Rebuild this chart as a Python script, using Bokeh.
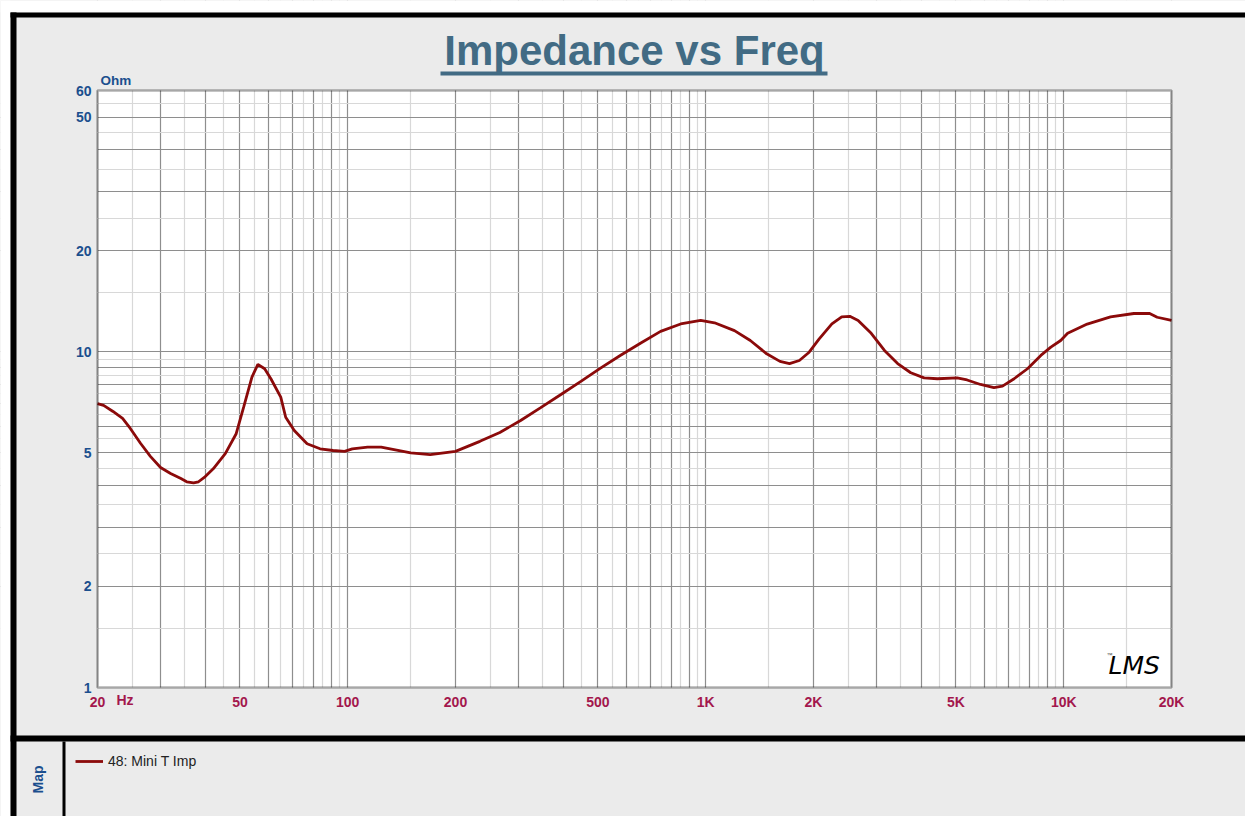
import math
from bokeh.plotting import figure
from bokeh.models import FixedTicker, Label, BoxAnnotation
from bokeh.embed import file_html
from bokeh.resources import INLINE

# ---------------- data ----------------
freq_hz = [20, 20.8, 22.1, 23.5, 24.7, 26.4, 28.1, 30.0, 32.0, 34.2, 35.5, 37.1, 38.3,
           40.0, 42.1, 45.5, 48.8, 51.2, 54.0, 56.1, 58.6, 61.0, 65.0, 67.1, 70.9, 77.0,
           83.7, 91.0, 98.0, 103, 113.6, 124, 150, 170, 200, 234, 266, 304, 346, 394,
           448, 507, 577, 657, 748, 851, 968, 1058, 1203, 1332, 1480, 1612, 1714, 1826,
           1945, 2072, 2251, 2398, 2526, 2665, 2899, 3157, 3436, 3739, 4073, 4436, 5037,
           5371, 5856, 6382, 6744, 7269, 7921, 8630, 9205, 9807, 10253, 11630, 13513,
           15700, 17380, 18240, 20000]
imp_ohm = [7.01, 6.92, 6.64, 6.33, 5.91, 5.33, 4.88, 4.52, 4.34, 4.19, 4.10, 4.07, 4.10,
           4.25, 4.48, 4.97, 5.70, 6.84, 8.40, 9.17, 8.90, 8.31, 7.33, 6.38, 5.83, 5.32,
           5.14, 5.08, 5.05, 5.14, 5.20, 5.20, 5.00, 4.94, 5.05, 5.41, 5.75, 6.24, 6.82,
           7.46, 8.16, 8.92, 9.75, 10.6, 11.5, 12.1, 12.4, 12.2, 11.56, 10.8, 9.86, 9.36,
           9.22, 9.42, 9.97, 10.9, 12.1, 12.7, 12.75, 12.4, 11.35, 10.09, 9.22, 8.66, 8.36,
           8.31, 8.36, 8.24, 7.99, 7.82, 7.90, 8.31, 8.90, 9.75, 10.32, 10.8, 11.35, 12.09,
           12.7, 13.0, 13.0, 12.67, 12.4]
series_name = "48: Mini T Imp"

x_limits = [20, 20000]
y_limits = [1, 60]
x_tick_values = [20, 50, 100, 200, 500, 1000, 2000, 5000, 10000, 20000]
x_tick_labels = ["20", "50", "100", "200", "500", "1K", "2K", "5K", "10K", "20K"]
y_tick_values = [1, 2, 5, 10, 20, 50, 60]
y_tick_labels = ["1", "2", "5", "10", "20", "50", "60"]

x_grid_major = [20, 30, 40, 50, 60, 70, 80, 90, 100, 200, 300, 400, 500, 600, 700, 800, 900,
                1000, 2000, 3000, 4000, 5000, 6000, 7000, 8000, 9000, 10000, 20000]
x_grid_minor = [25, 35, 45, 55, 65, 75, 85, 95, 150, 250, 350, 450, 550, 650, 750, 850, 950,
                1500, 2500, 3500, 4500, 5500, 6500, 7500, 8500, 9500, 15000]
y_grid_major = [2, 3, 4, 5, 6, 7, 8, 9, 10, 20, 30, 40, 50]
y_grid_minor = [1.5, 2.5, 3.5, 4.5, 5.5, 6.5, 7.5, 8.5, 9.5, 15, 25, 35, 45, 55]

# ---------------- layout (canvas pixels, from top-left) ----------------
W, H = 1245, 816
PL, PR, PT, PB = 97, 1171, 90, 687     # plot rectangle
BG = "#ebebeb"
BLUE = "#1b4f8e"
RED = "#a3174d"
TITLE_C = "#426b84"
FONT = "Liberation Sans"

# extend the log ranges so that the plot rectangle sits where it should,
# with the frame covering the whole canvas
lx0, lx1 = math.log10(x_limits[0]), math.log10(x_limits[1])
ly0, ly1 = math.log10(y_limits[0]), math.log10(y_limits[1])
kx = (PR - PL) / (lx1 - lx0)
ky = (PB - PT) / (ly1 - ly0)
xr = (10 ** (lx0 - PL / kx), 10 ** (lx1 + (W - PR) / kx))
yr = (10 ** (ly0 - (H - PB) / ky), 10 ** (ly1 + PT / ky))


def sy(py):
    return H - py


p = figure(width=W, height=H, x_axis_type="log", y_axis_type="log",
           x_range=xr, y_range=yr, title=None,
           output_backend="svg", toolbar_location=None,
           min_border_left=0, min_border_right=0, min_border_top=0, min_border_bottom=0)
p.background_fill_color = BG
p.border_fill_color = BG
p.outline_line_color = None

# white plot area under the grid
p.add_layout(BoxAnnotation(left=x_limits[0], right=x_limits[1], bottom=y_limits[0],
                           top=y_limits[1], fill_color="white", fill_alpha=1,
                           line_color=None, level="image"))

# grids
p.xgrid.ticker = FixedTicker(ticks=x_grid_major, minor_ticks=x_grid_minor)
p.ygrid.ticker = FixedTicker(ticks=y_grid_major, minor_ticks=y_grid_minor)
for g in (p.xgrid, p.ygrid):
    g.grid_line_color = "#8e8e8e"
    g.grid_line_width = 1.2
    g.minor_grid_line_color = "#d8d8d8"
    g.minor_grid_line_width = 1.2


def box(l, r, t, b, color="black", level="annotation"):
    p.add_layout(BoxAnnotation(left=l, right=r, top=sy(t), bottom=sy(b),
                               left_units="screen", right_units="screen",
                               top_units="screen", bottom_units="screen",
                               fill_color=color, fill_alpha=1, line_color=None,
                               level=level))


def text(x, baseline, txt, size, color, style="bold", font=FONT, align="left"):
    # place a text so that its alphabetic baseline sits at canvas row `baseline`
    p.add_layout(Label(x=x, y=sy(baseline) + 0.4 * size, x_units="screen", y_units="screen",
                       text=txt, text_align=align, text_baseline="alphabetic",
                       text_font=font, text_font_style=style,
                       text_font_size=f"{size}px", text_color=color))


# grey masks that hide the grid outside of the plot rectangle
box(0, W, 0, PT, BG, "underlay")
box(0, W, PB, H, BG, "underlay")
box(0, PL, 0, H, BG, "underlay")
box(PR, W, 0, H, BG, "underlay")

# axes, fixed at the edges of the plot rectangle
p.xaxis.fixed_location = y_limits[0]
p.yaxis.fixed_location = x_limits[0]
p.xaxis.ticker = FixedTicker(ticks=x_tick_values)
p.yaxis.ticker = FixedTicker(ticks=y_tick_values)
p.xaxis.major_label_overrides = {v: t for v, t in zip(x_tick_values, x_tick_labels)}
p.yaxis.major_label_overrides = {v: t for v, t in zip(y_tick_values, y_tick_labels)}
for ax, col in ((p.xaxis, RED), (p.yaxis, BLUE)):
    ax.axis_line_color = None
    ax.major_tick_line_color = None
    ax.minor_tick_line_color = None
    ax.major_tick_in = 0
    ax.major_tick_out = 0
    ax.minor_tick_in = 0
    ax.minor_tick_out = 0
    ax.major_label_text_font = FONT
    ax.major_label_text_font_style = "bold"
    ax.major_label_text_font_size = "14px"
    ax.major_label_text_color = col
    ax.major_label_standoff = 6

# data line
p.line(freq_hz, imp_ohm, line_color="#8b0a0a", line_width=2.8, legend_label=series_name)

# plot rectangle outline
p.add_layout(BoxAnnotation(left=x_limits[0], right=x_limits[1], bottom=y_limits[0],
                           top=y_limits[1], fill_alpha=0, line_color="black",
                           line_width=2.5, level="annotation"))

leg = p.legend[0]
leg.location = (75, sy(770.5))
leg.background_fill_alpha = 0
leg.border_line_alpha = 0
leg.padding = 0
leg.margin = 0
leg.spacing = 0
leg.glyph_width = 28
leg.glyph_height = 20
leg.label_height = 20
leg.label_standoff = 5
leg.label_text_font = FONT
leg.label_text_font_size = "14px"
leg.label_text_color = "#222222"

# title + underline
text((PL + PR) / 2, 66.7, "Impedance vs Freq", 42, TITLE_C, align="center")
box(440, 827, 71, 75, TITLE_C)

# unit labels
text(100, 85, "Ohm", 13.5, BLUE)
text(116, 705, "Hz", 14, RED)

# LMS logo
text(1108, 675, "LMS", 25, "black", style="italic", font="DejaVu Sans")
text(1106, 657, "\u2122", 6, "#444444", style="normal")

# window / panel borders
box(0, 10, 0, H, "white")
box(0, W, 0, 12, "white")
box(10, W, 12, 17)
box(10, 16, 12, H)
box(10, W, 735, 741)
box(62, 65, 741, H)

# Map panel label
p.add_layout(Label(x=37.5, y=sy(779), x_units="screen", y_units="screen", text="Map",
                   angle=math.pi / 2, text_align="center", text_baseline="middle",
                   text_font=FONT, text_font_style="bold", text_font_size="14px",
                   text_color=BLUE))

open("out.html", "w").write(file_html(p, INLINE))
